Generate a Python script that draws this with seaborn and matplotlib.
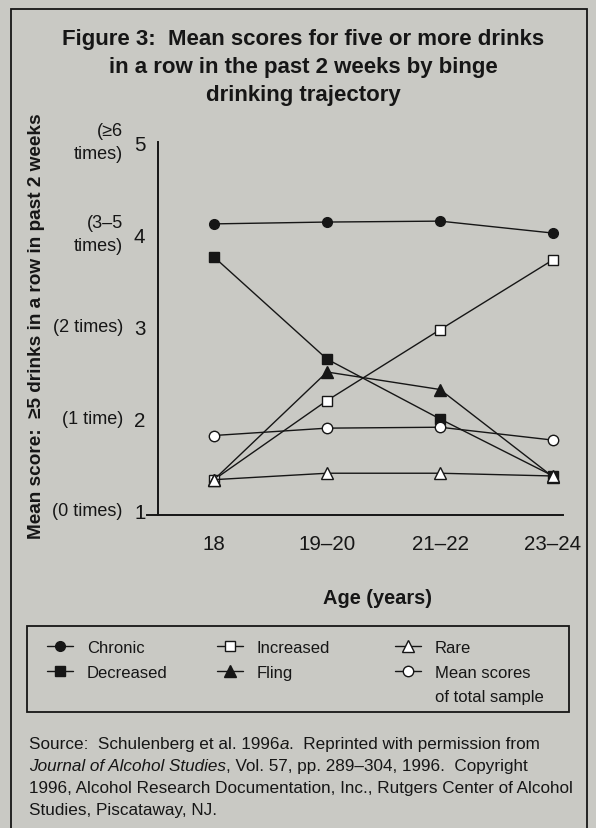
import numpy as np
import pandas as pd
import matplotlib
matplotlib.use("Agg")
import matplotlib.pyplot as plt
import seaborn as sns
from matplotlib.lines import Line2D
from matplotlib.patches import Rectangle
from matplotlib.transforms import blended_transform_factory

# ---------------- data ----------------
ages = ["18", "19\u201320", "21\u201322", "23\u201324"]
chronic = [4.11, 4.13, 4.14, 4.01]
decreased = [3.75, 2.64, 1.99, 1.37]
increased = [1.33, 2.19, 2.96, 3.72]
fling = [1.33, 2.50, 2.31, 1.36]
rare = [1.33, 1.40, 1.40, 1.37]
mean_total = [1.81, 1.89, 1.90, 1.76]

y_ticks = [1, 2, 3, 4, 5]
y_desc = ["(0 times)", "(1 time)", "(2 times)", "(3\u20135\ntimes)", "(\u22656\ntimes)"]

title_lines = ["Figure 3:  Mean scores for five or more drinks",
               "in a row in the past 2 weeks by binge",
               "drinking trajectory"]
y_label = "Mean score:  \u22655 drinks in a row in past 2 weeks"
x_label = "Age (years)"

source_lines = [
    [("Source:  Schulenberg et al. 1996", "normal"), ("a", "italic"),
     (".  Reprinted with permission from", "normal")],
    [("Journal of Alcohol Studies", "italic"),
     (", Vol. 57, pp. 289\u2013304, 1996.  Copyright", "normal")],
    [("1996, Alcohol Research Documentation, Inc., Rutgers Center of Alcohol", "normal")],
    [("Studies, Piscataway, NJ.", "normal")],
]

# ---------------- style ----------------
BG = "#c9c9c4"
INK = "#161616"
sns.set_theme(style="white")
plt.rcParams["font.family"] = ["Liberation Sans", "DejaVu Sans"]
plt.rcParams["text.color"] = INK

W, H = 596, 829
fig = plt.figure(figsize=(W / 100, H / 100), dpi=100)
fig.patch.set_facecolor(BG)
renderer = fig.canvas.get_renderer()


def fx(px):
    return px / W


def fy(py):
    return 1 - py / H


def fit_size(txt, target_px, weight="normal", style="normal", base=20.0):
    t = fig.text(0, 0, txt, fontsize=base, fontweight=weight, fontstyle=style)
    w = t.get_window_extent(renderer).width
    t.remove()
    return base * target_px / w


FS_TICK = fit_size("19\u201320", 57)
FS_DESC = fit_size("(2 times)", 70)
FS_XLAB = fit_size(x_label, 109, weight="bold")
FS_TITLE = fit_size(title_lines[0], 483, weight="bold")
FS_YLAB = fit_size(y_label, 425, weight="bold")
FS_LEG = fit_size("Decreased", 80)
FS_SRC = fit_size(source_lines[2][0][0], 542)

ax = fig.add_axes([fx(147), fy(516), (563 - 147) / W, (516 - 143) / H])
ax.set_facecolor(BG)

pos = np.arange(len(ages))
df = pd.DataFrame({"pos": pos, "Chronic": chronic, "Decreased": decreased,
                   "Increased": increased, "Fling": fling, "Rare": rare,
                   "Mean scores of total sample": mean_total})

series = [
    ("Chronic", "o", INK, 7.0),
    ("Decreased", "s", INK, 7.0),
    ("Increased", "s", "white", 7.0),
    ("Fling", "^", INK, 8.5),
    ("Mean scores of total sample", "o", "white", 7.5),
    ("Rare", "^", "white", 8.5),
]
handles = {}
for name, mk, face, ms in series:
    sns.lineplot(data=df, x="pos", y=name, ax=ax, color=INK, linewidth=1.0,
                 marker=mk, markersize=ms, markerfacecolor=face,
                 markeredgecolor=INK, markeredgewidth=1.0)
    handles[name] = ax.lines[-1]

ax.set_xlim(-0.593, 3.088)
ax.set_ylim(0.946, 5)
ax.set_xticks(pos)
ax.set_xticklabels(ages)
ax.set_yticks(y_ticks)
ax.set_yticklabels([str(v) for v in y_ticks])
for s in ["top", "right"]:
    ax.spines[s].set_visible(False)
for s in ["left", "bottom"]:
    ax.spines[s].set_color(INK)
    ax.spines[s].set_linewidth(1.4)
ax.spines["left"].set_position(("data", -0.496))
ax.spines["left"].set_bounds(0.946, 5)
ax.tick_params(axis="y", direction="out", length=7, width=1.0, pad=2,
               colors=INK, labelsize=FS_TICK)
ax.tick_params(axis="x", direction="out", length=6.5, width=1.0, pad=7,
               colors=INK, labelsize=FS_TICK)
ax.set_xlabel("")
ax.set_ylabel("")

tr = blended_transform_factory(ax.transAxes, ax.transData)
for v, d in zip(y_ticks, y_desc):
    ax.text(-0.058, v, d, transform=tr, ha="right", va="center", fontsize=FS_DESC,
            linespacing=1.45, color=INK)

ax.text(0.555, -0.22, x_label, transform=ax.transAxes, ha="center", va="center",
        fontsize=FS_XLAB, fontweight="bold", color=INK)

# title
for i, line in enumerate(title_lines):
    fig.text(fx(303), fy(40 + 27.5 * i), line, ha="center", va="center",
             fontsize=FS_TITLE, fontweight="bold", color=INK)

# y label
fig.text(fx(37), fy(326), y_label, rotation=90, ha="center", va="center",
         fontsize=FS_YLAB, fontweight="bold", color=INK)

# legend
cols = [
    (47, [("Chronic", "Chronic"), ("Decreased", "Decreased")]),
    (217, [("Increased", "Increased"), ("Fling", "Fling")]),
    (395, [("Rare", "Rare"), ("Mean scores of total sample", "Mean scores"),
           (None, "of total sample")]),
]
for x0, entries in cols:
    hs, ls = [], []
    for key, lab in entries:
        if key is None:
            hs.append(Line2D([], [], linestyle="none", marker=None))
        else:
            hs.append(handles[key])
        ls.append(lab)
    fig.legend(hs, ls, loc="upper left", bbox_to_anchor=(fx(x0), fy(641)),
               frameon=False, borderpad=0, borderaxespad=0, fontsize=FS_LEG,
               handlelength=26 / (FS_LEG * 100 / 72), handletextpad=14 / (FS_LEG * 100 / 72),
               labelspacing=0.58)

fig.add_artist(Rectangle((fx(27), fy(713)), (569 - 27) / W, (713 - 627) / H,
                         transform=fig.transFigure, fill=False,
                         edgecolor=INK, linewidth=1.3))
fig.add_artist(Rectangle((fx(11), fy(840)), (587 - 11) / W, (840 - 10) / H,
                         transform=fig.transFigure, fill=False,
                         edgecolor=INK, linewidth=1.3))

# source text
for i, pieces in enumerate(source_lines):
    x = fx(29)
    for txt, style in pieces:
        t = fig.text(x, fy(745 + 21.7 * i), txt, ha="left", va="center",
                     fontsize=FS_SRC, fontstyle=style, color=INK)
        bb = t.get_window_extent(renderer)
        x = fig.transFigure.inverted().transform((bb.x1, 0))[0]

fig.savefig("out.png", dpi=100, facecolor=BG)
